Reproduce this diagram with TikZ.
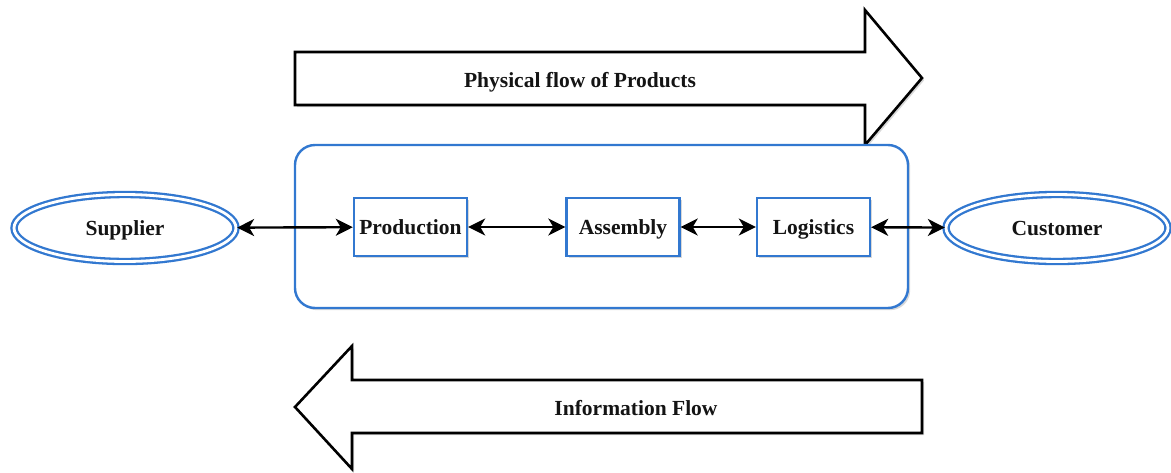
\documentclass[tikz,border=0pt]{standalone}
\usepackage{fontspec}
\setmainfont{Liberation Serif}
\usetikzlibrary{shapes.geometric,arrows.meta,shadows}
\definecolor{boxblue}{RGB}{50,120,208}
\tikzset{
  lbl/.style={font=\fontsize{21.5}{25}\selectfont\bfseries, text=black!92, text height=14.5pt, text depth=0.5pt},
  shd/.style={drop shadow={opacity=0.3, shadow xshift=2.2pt, shadow yshift=-2.2pt}},
  stagebox/.style={lbl, draw=boxblue, line width=2.4pt, fill=white, shd, rectangle,
    minimum width=113pt, minimum height=58pt, inner sep=0pt},
  party/.style={lbl, ellipse, draw=boxblue, line width=2.3pt, double=white, double distance=2.8pt,
    fill=white, shd, minimum width=222pt, minimum height=67pt, inner sep=0pt},
  bigarrow/.style={draw=black, line width=2.6pt, fill=white, line join=miter, shd},
  container/.style={draw=boxblue, line width=2.4pt, rounded corners=20pt, shd, fill=white},
  link/.style={line width=2.4pt, {Stealth[length=17pt,width=17pt,inset=5pt]}-{Stealth[length=17pt,width=17pt,inset=5pt]}},
}
\begin{document}
\begin{tikzpicture}[x=1pt,y=-1pt]
\useasboundingbox (0,0) rectangle (1171,472);
% top arrow
\draw[bigarrow] (295,52) -- (865,52) -- (865,10) -- (922,78) -- (865,145) -- (865,105) -- (295,105) -- cycle;
\node[lbl] (phys) at (580,80) {Physical flow of Products};
% container
\draw[container] (295,145) rectangle (908,308);
% bottom arrow
\draw[bigarrow] (922,380) -- (352,380) -- (352,346) -- (295,407) -- (352,469) -- (352,433) -- (922,433) -- cycle;
\node[lbl] (info) at (636,408) {Information Flow};
% nodes
\node[party] (sup) at (125,228) {Supplier};
\node[party] (cus) at (1057,228) {Customer};
\node[stagebox] (prod) at (410.5,227) {Production};
\node[stagebox] (asm) at (623,227) {Assembly};
\node[stagebox] (log) at (813.5,227) {Logistics};
% links
\draw[link] (sup) -- (prod);
\draw[link] (prod) -- (asm);
\draw[link] (asm) -- (log);
\draw[link] (log) -- (cus);
\end{tikzpicture}
\end{document}
